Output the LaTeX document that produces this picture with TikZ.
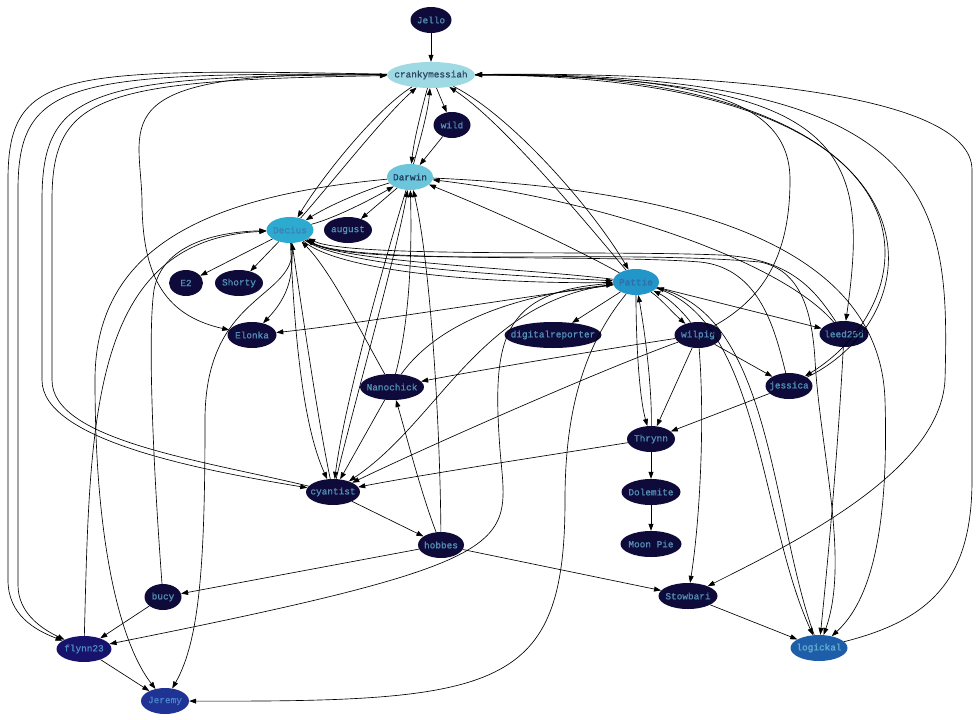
\documentclass[tikz,border=0pt]{standalone}
\usepackage{fontspec}
\newfontfamily\gfont{Liberation Mono}[FakeBold=0.8]
\usetikzlibrary{arrows.meta,shapes.geometric}
\definecolor{dkfill}{HTML}{0E0B3B}
\definecolor{dktext}{HTML}{5390B6}
\definecolor{cmfill}{HTML}{9FD9E4}
\definecolor{cmtext}{HTML}{2A4862}
\definecolor{dwfill}{HTML}{6CC5DA}
\definecolor{dwtext}{HTML}{1E3A5E}
\definecolor{dcfill}{HTML}{2CAAD0}
\definecolor{dctext}{HTML}{3A80B6}
\definecolor{ptfill}{HTML}{2296C8}
\definecolor{pttext}{HTML}{2B6EA8}
\definecolor{lgfill}{HTML}{1E5EA8}
\definecolor{lgtext}{HTML}{62AED0}
\definecolor{jrfill}{HTML}{1F3395}
\definecolor{jrtext}{HTML}{4A82C8}
\definecolor{flfill}{HTML}{17126C}
\definecolor{fltext}{HTML}{4C8CC0}
\tikzset{
  gn/.style={ellipse, minimum height=26pt, inner sep=0pt, draw=none,
    font=\gfont\fontsize{9.4}{10}\selectfont},
  dk/.style={gn, fill=dkfill, text=dktext},
  ed/.style={-{Triangle[length=7pt,width=5pt]}, line width=0.65pt, black},
}
\newcommand{\gtxt}[1]{\makebox[0pt]{#1}}
\begin{document}
\begin{tikzpicture}[x=1pt,y=-1pt]
\fill[white] (0,0) rectangle (980,720);
\useasboundingbox (0,0) rectangle (980,720);
% nodes
\node[dk, minimum width=41pt] (jello) at (431,20) {\gtxt{Jello}};
\node[gn, fill=cmfill, text=cmtext, minimum width=88pt] (cm) at (431,75) {\gtxt{crankymessiah}};
\node[dk, minimum width=37pt] (wild) at (452,125) {\gtxt{wild}};
\node[gn, fill=dwfill, text=dwtext, minimum width=46pt] (darwin) at (410,177) {\gtxt{Darwin}};
\node[gn, fill=dcfill, text=dctext, minimum width=47pt] (decius) at (290,230) {\gtxt{Decius}};
\node[dk, minimum width=48pt] (august) at (348,230) {\gtxt{august}};
\node[dk, minimum width=34pt] (e2) at (186,283) {\gtxt{E2}};
\node[dk, minimum width=48pt] (shorty) at (239,283) {\gtxt{Shorty}};
\node[gn, fill=ptfill, text=pttext, minimum width=46pt] (pattie) at (636,282) {\gtxt{Pattie}};
\node[dk, minimum width=49pt] (elonka) at (252,335) {\gtxt{Elonka}};
\node[dk, minimum width=97pt] (digital) at (553,335) {\gtxt{digitalreporter}};
\node[dk, minimum width=47pt] (wilpig) at (698,335) {\gtxt{wilpig}};
\node[dk, minimum width=49pt] (leed) at (844,334) {\gtxt{leed25d}};
\node[dk, minimum width=64pt] (nano) at (392,387) {\gtxt{Nanochick}};
\node[dk, minimum width=47pt] (jessica) at (789,386) {\gtxt{jessica}};
\node[dk, minimum width=48pt] (thrynn) at (651,439) {\gtxt{Thrynn}};
\node[dk, minimum width=54pt] (cyantist) at (333,492) {\gtxt{cyantist}};
\node[dk, minimum width=59pt] (dolemite) at (651,492) {\gtxt{Dolemite}};
\node[dk, minimum width=46pt] (hobbes) at (441,545) {\gtxt{hobbes}};
\node[dk, minimum width=61pt] (moonpie) at (651,544) {\gtxt{Moon Pie}};
\node[dk, minimum width=37pt] (bucy) at (163,597) {\gtxt{bucy}};
\node[dk, minimum width=59pt] (stowbari) at (688,596) {\gtxt{Stowbari}};
\node[gn, fill=flfill, text=fltext, minimum width=55pt] (flynn) at (84,649) {\gtxt{flynn23}};
\node[gn, fill=lgfill, text=lgtext, minimum width=57pt] (logickal) at (819,648) {\gtxt{logickal}};
\node[gn, fill=jrfill, text=jrtext, minimum width=48pt] (jeremy) at (165,701) {\gtxt{Jeremy}};
% edges: top
\draw[ed] (jello) -- (cm);
\draw[ed] (cm) -- (wild);
\draw[ed] (wild) -- (darwin);
\draw[ed] (cm) .. controls (421,112) and (414,140) .. (darwin);
\draw[ed] (darwin) .. controls (420,140) and (428,112) .. (cm);
\draw[ed] (cm) .. controls (375,110) and (320,180) .. (decius);
\draw[ed] (decius) .. controls (330,185) and (385,115) .. (cm);
\draw[ed] (pattie) .. controls (580,215) and (500,120) .. (cm);
\draw[ed] (cm) .. controls (510,115) and (590,205) .. (pattie);
% left of crankymessiah
\draw[ed] (cm) .. controls (100,70) and (140,120) .. (142,200) .. controls (142,272) and (162,315) .. (elonka);
\draw[ed] (cm) .. controls (60,68) and (8,70) .. (8,180) -- (8,580) .. controls (8,615) and (35,630) .. (flynn);
\draw[ed] (cm) .. controls (70,72) and (18,80) .. (18,190) -- (18,585) .. controls (18,612) and (40,628) .. (flynn);
\draw[ed] (cm) .. controls (90,75) and (42,90) .. (42,200) -- (42,380) .. controls (42,440) and (200,470) .. (cyantist);
\draw[ed] (cyantist) .. controls (200,460) and (52,440) .. (52,380) -- (52,200) .. controls (52,95) and (100,80) .. (cm);
% right of crankymessiah
\draw[ed] (cm) .. controls (850,75) and (870,150) .. (leed);
\draw[ed] (cm) .. controls (960,75) and (930,300) .. (jessica);
\draw[ed] (jessica) .. controls (945,310) and (950,70) .. (cm);
\draw[ed] (wilpig) .. controls (760,300) and (790,260) .. (790,180) .. controls (790,100) and (700,75) .. (cm);
\draw[ed] (cm) .. controls (940,70) and (950,200) .. (945,380) .. controls (940,470) and (800,540) .. (stowbari);
\draw[ed] (logickal) .. controls (930,620) and (972,580) .. (972,480) -- (972,170) .. controls (972,90) and (700,72) .. (cm);
% Darwin
\draw[ed] (darwin) .. controls (365,190) and (330,205) .. (decius);
\draw[ed] (decius) .. controls (335,218) and (370,200) .. (darwin);
\draw[ed] (darwin) -- (august);
\draw[ed] (darwin) .. controls (220,195) and (95,240) .. (95,380) .. controls (95,560) and (125,650) .. (jeremy);
\draw[ed] (darwin) .. controls (385,260) and (345,400) .. (cyantist);
\draw[ed] (cyantist) .. controls (355,400) and (395,260) .. (darwin);
\draw[ed] (nano) .. controls (410,320) and (412,250) .. (darwin);
\draw[ed] (hobbes) .. controls (440,420) and (430,260) .. (darwin);
\draw[ed] (pattie) .. controls (560,240) and (480,205) .. (darwin);
\draw[ed] (leed) .. controls (780,260) and (600,200) .. (darwin);
\draw[ed] (darwin) .. controls (700,190) and (880,250) .. (885,400) .. controls (890,560) and (860,610) .. (logickal);
% Decius
\draw[ed] (decius) -- (e2);
\draw[ed] (decius) -- (shorty);
\draw[ed] (decius) .. controls (295,280) and (285,300) .. (elonka);
\draw[ed] (decius) .. controls (300,300) and (205,290) .. (205,420) .. controls (205,560) and (200,640) .. (jeremy);
\draw[ed] (decius) .. controls (295,350) and (305,430) .. (cyantist);
\draw[ed] (cyantist) .. controls (318,420) and (305,330) .. (decius);
\draw[ed] (flynn) .. controls (90,420) and (90,240) .. (decius);
\draw[ed] (bucy) .. controls (152,450) and (148,330) .. (154,290) .. controls (162,245) and (215,232) .. (decius);
\draw[ed] (decius) .. controls (345,268) and (520,276) .. (pattie);
\draw[ed] (decius) .. controls (345,276) and (520,284) .. (pattie);
\draw[ed] (pattie) .. controls (520,268) and (345,262) .. (decius);
\draw[ed] (leed) .. controls (815,290) and (790,258) .. (720,255) .. controls (600,250) and (350,258) .. (decius);
\draw[ed] (jessica) .. controls (775,330) and (760,268) .. (700,262) .. controls (600,254) and (350,264) .. (decius);
\draw[ed] (decius) .. controls (350,270) and (600,248) .. (760,262) .. controls (800,270) and (812,310) .. (815,360) .. controls (820,450) and (850,560) .. (logickal);
% Pattie
\draw[ed] (pattie) -- (digital);
\draw[ed] (pattie) .. controls (660,298) and (672,312) .. (wilpig);
\draw[ed] (wilpig) .. controls (688,318) and (672,300) .. (pattie);
\draw[ed] (pattie) -- (leed);
\draw[ed] (pattie) .. controls (500,300) and (350,325) .. (elonka);
\draw[ed] (pattie) .. controls (636,350) and (640,400) .. (thrynn);
\draw[ed] (thrynn) .. controls (652,400) and (648,350) .. (pattie);
\draw[ed] (pattie) .. controls (580,350) and (565,420) .. (565,500) .. controls (565,690) and (500,702) .. (jeremy);
\draw[ed] (pattie) .. controls (500,290) and (492,340) .. (500,450) .. controls (508,545) and (530,560) .. (flynn);
\draw[ed] (pattie) .. controls (480,300) and (440,420) .. (cyantist);
\draw[ed] (nano) .. controls (440,320) and (520,295) .. (pattie);
\draw[ed] (pattie) .. controls (760,320) and (760,520) .. (logickal);
\draw[ed] (logickal) .. controls (772,520) and (772,320) .. (pattie);
% wilpig
\draw[ed] (wilpig) .. controls (600,350) and (480,370) .. (nano);
\draw[ed] (wilpig) .. controls (600,370) and (420,450) .. (cyantist);
\draw[ed] (wilpig) -- (jessica);
\draw[ed] (wilpig) -- (thrynn);
\draw[ed] (wilpig) .. controls (705,420) and (700,520) .. (stowbari);
% Thrynn
\draw[ed] (thrynn) -- (dolemite);
\draw[ed] (dolemite) -- (moonpie);
\draw[ed] (thrynn) .. controls (550,455) and (420,475) .. (cyantist);
\draw[ed] (jessica) -- (thrynn);
% Nanochick
\draw[ed] (nano) .. controls (360,330) and (330,270) .. (decius);
\draw[ed] (nano) -- (cyantist);
\draw[ed] (hobbes) .. controls (420,490) and (405,430) .. (nano);
% lower
\draw[ed] (cyantist) -- (hobbes);
\draw[ed] (hobbes) -- (bucy);
\draw[ed] (hobbes) -- (stowbari);
\draw[ed] (bucy) -- (flynn);
\draw[ed] (flynn) -- (jeremy);
\draw[ed] (stowbari) -- (logickal);
\draw[ed] (leed) .. controls (838,450) and (828,560) .. (logickal);
\end{tikzpicture}
\end{document}
